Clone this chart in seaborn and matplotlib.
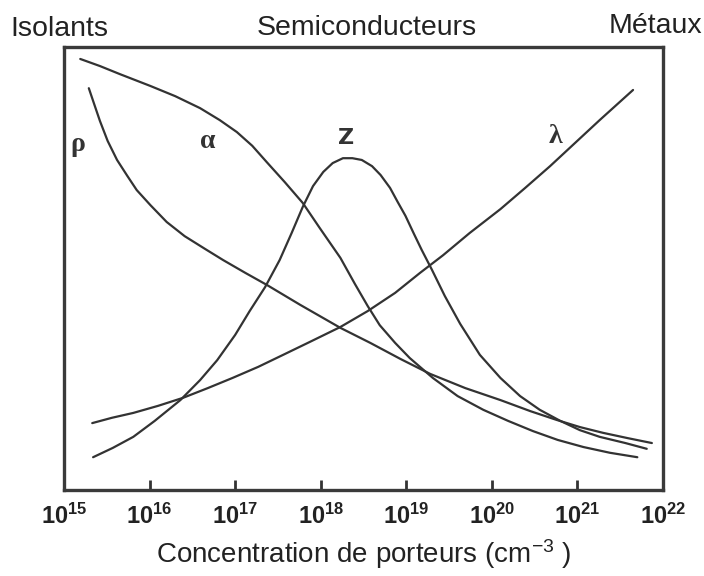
import numpy as np
import pandas as pd
import matplotlib
matplotlib.use("Agg")
import matplotlib.pyplot as plt
import seaborn as sns

# ---- data: log10 of carrier concentration (x) and relative magnitude (y, arbitrary units) ----
rho_logn = [15.29, 15.36, 15.42, 15.51, 15.62, 15.74, 15.85, 16.01, 16.20, 16.41, 16.65, 16.86,
            17.12, 17.37, 17.76, 18.23, 18.58, 18.93, 19.28, 19.69, 20.10, 20.45, 20.76, 21.03,
            21.30, 21.59, 21.87]
rho_val = [90.7, 86.7, 83.3, 78.8, 74.5, 70.9, 67.7, 64.3, 60.5, 57.3, 54.4, 51.9,
           49.0, 46.3, 41.8, 36.6, 33.2, 29.6, 26.2, 23.0, 20.3, 17.8, 15.8, 14.2,
           12.9, 11.7, 10.6]

alpha_logn = [15.19, 15.42, 15.65, 16.01, 16.30, 16.59, 16.82, 17.02, 17.20, 17.37, 17.58, 17.79,
              17.99, 18.23, 18.40, 18.55, 18.69, 18.87, 19.04, 19.31, 19.60, 19.90, 20.19, 20.48,
              20.77, 21.07, 21.38, 21.70]
alpha_val = [97.3, 95.7, 93.9, 91.2, 88.9, 86.2, 83.5, 80.8, 77.7, 74.0, 69.5, 64.8,
             59.1, 52.4, 46.5, 41.5, 37.2, 33.2, 29.8, 25.3, 21.2, 18.1, 15.6, 13.3,
             11.3, 9.7, 8.4, 7.4]

z_logn = [15.34, 15.57, 15.81, 16.06, 16.36, 16.59, 16.79, 17.00, 17.17, 17.35, 17.52, 17.66,
          17.79, 17.91, 18.03, 18.14, 18.26, 18.37, 18.48, 18.60, 18.70, 18.81, 18.90, 18.99,
          19.09, 19.18, 19.30, 19.45, 19.63, 19.86, 20.10, 20.33, 20.56, 20.80, 21.03, 21.26,
          21.56, 21.81]
z_val = [7.4, 9.5, 12.0, 15.6, 20.3, 24.8, 29.3, 35.0, 40.4, 45.8, 51.9, 58.0,
         63.9, 68.6, 71.8, 73.8, 74.9, 74.9, 74.5, 73.1, 71.1, 68.2, 65.0, 61.9,
         57.8, 54.2, 49.7, 43.8, 37.5, 30.5, 25.3, 21.2, 18.1, 15.6, 13.5, 12.0,
         10.6, 9.3]

lam_logn = [15.33, 15.56, 15.81, 16.10, 16.39, 16.68, 16.97, 17.27, 17.56, 17.87, 18.23, 18.55,
            18.87, 19.16, 19.43, 19.74, 20.10, 20.39, 20.68, 20.97, 21.26, 21.65]
lam_val = [15.1, 16.3, 17.4, 19.0, 20.8, 23.0, 25.3, 27.8, 30.5, 33.4, 36.8, 40.4,
           44.5, 49.0, 53.0, 58.0, 63.4, 68.2, 73.1, 78.3, 83.5, 90.3]

curve_names = ["ρ", "α", "Z", "λ"]
label_logn = [15.16, 16.68, 18.30, 20.74]
label_val = [78.1, 78.6, 79.5, 79.7]

tick_exponents = [15, 16, 17, 18, 19, 20, 21, 22]
tick_labels = [r"$\mathregular{10^{%d}}$" % e for e in tick_exponents]

region_titles = ["Isolants", "Semiconducteurs", "Métaux"]
xlabel = r"Concentration de porteurs (cm$\mathregular{^{-3}}$ )"

# ---- build table ----
frames = []
for name, lx, yv in [("ρ", rho_logn, rho_val), ("α", alpha_logn, alpha_val),
                     ("Z", z_logn, z_val), ("λ", lam_logn, lam_val)]:
    frames.append(pd.DataFrame({"n": 10.0 ** np.array(lx), "v": yv, "curve": name}))
df = pd.concat(frames, ignore_index=True)

sns.set_theme(style="white")
plt.rcParams["font.family"] = ["Liberation Sans", "DejaVu Sans"]
plt.rcParams["mathtext.fontset"] = "custom"
plt.rcParams["mathtext.rm"] = "Liberation Sans"
plt.rcParams["mathtext.it"] = "Liberation Sans:italic"
plt.rcParams["mathtext.bf"] = "Liberation Sans:bold"

fig = plt.figure(figsize=(7.04, 5.76), dpi=100)
ax = fig.add_axes([64 / 704, 1 - 490 / 576, (663 - 64) / 704, (490 - 47) / 576])

line_color = "#333333"
for name in curve_names:
    sub = df[df["curve"] == name]
    sns.lineplot(data=sub, x="n", y="v", ax=ax, color=line_color, linewidth=1.6,
                 sort=False, estimator=None, legend=False)

ax.set_xscale("log")
ax.set_xlim(10.0 ** tick_exponents[0], 10.0 ** tick_exponents[-1])
ax.set_ylim(0, 100)
ax.set_xticks([10.0 ** e for e in tick_exponents])
ax.set_xticklabels(tick_labels, fontsize=17, fontweight="bold")
ax.xaxis.set_minor_locator(matplotlib.ticker.NullLocator())
ax.set_yticks([])
ax.tick_params(axis="x", direction="in", length=7, width=2, color="#333333",
               pad=10, bottom=True, labelcolor="#222222")
ax.set_xlabel(xlabel, fontsize=20, color="#222222", labelpad=6)
ax.set_ylabel("")
for sp in ax.spines.values():
    sp.set_visible(True)
    sp.set_linewidth(2.4)
    sp.set_color("#3a3a3a")

for name, lx, yv in zip(curve_names, label_logn, label_val):
    if name == "Z":
        fam, size = ["DejaVu Sans"], 16
    else:
        fam, size = ["Liberation Serif", "DejaVu Serif"], 20
    ax.text(10.0 ** lx, yv, name, ha="center", va="center", fontsize=size,
            fontweight="bold", color="#333333", family=fam)

fig.text(10 / 704, 1 - 36 / 576, region_titles[0], ha="left", va="baseline",
         fontsize=20.5, color="#222222")
fig.text(367 / 704, 1 - 35 / 576, region_titles[1], ha="center", va="baseline",
         fontsize=20.5, color="#222222")
fig.text(702 / 704, 1 - 33 / 576, region_titles[2], ha="right", va="baseline",
         fontsize=20.5, color="#222222")

fig.savefig("out.png", dpi=100, facecolor="white")
